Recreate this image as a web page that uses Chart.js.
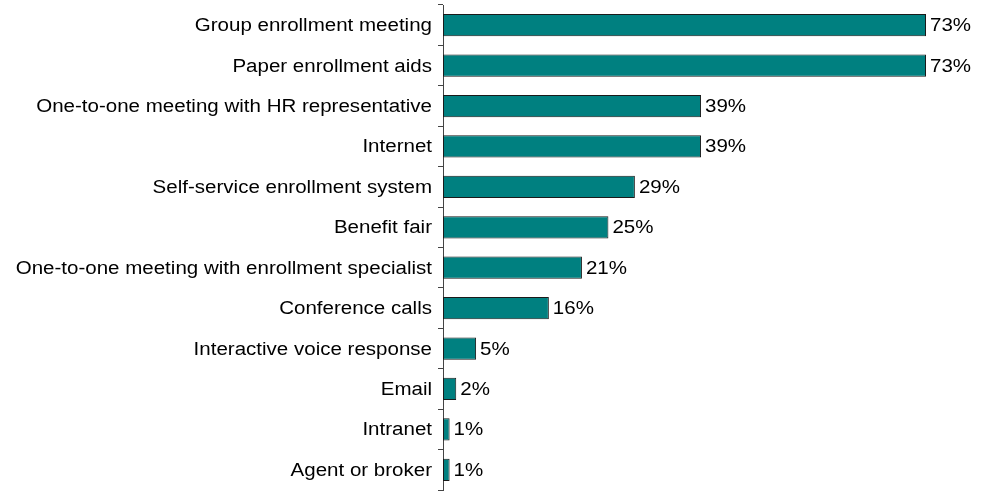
<!DOCTYPE html>
<html>
<head>
<meta charset="utf-8">
<script src="https://cdn.jsdelivr.net/npm/chart.js@4"></script>
<style>
  html, body { margin: 0; padding: 0; background: #fff; }
  #wrap { width: 981px; height: 498px; }
</style>
</head>
<body>
<div id="wrap"><canvas id="chart"></canvas></div>
<script>
const categories = [
    'Group enrollment meeting',
    'Paper enrollment aids',
    'One-to-one meeting with HR representative',
    'Internet',
    'Self-service enrollment system',
    'Benefit fair',
    'One-to-one meeting with enrollment specialist',
    'Conference calls',
    'Interactive voice response',
    'Email',
    'Intranet',
    'Agent or broker'
];
const percents = [73, 73, 39, 39, 29, 25, 21, 16, 5, 2, 1, 1];

const FONT = '18px "Liberation Sans", Arial, sans-serif';
const STRETCH = 1.14; // slightly wide text

// draws text stretched horizontally, anchored at x
function wideText(ctx, text, x, y, align) {
    ctx.save();
    ctx.translate(x, y);
    ctx.scale(STRETCH, 1);
    ctx.textAlign = align;
    ctx.fillText(text, 0, 0);
    ctx.restore();
}

// category names on the left, value labels to the right of each bar
const barLabels = {
    id: 'barLabels',
    afterDatasetsDraw(chart) {
        const ctx = chart.ctx;
        const yScale = chart.scales.y;
        const meta = chart.getDatasetMeta(0);
        ctx.save();
        ctx.font = FONT;
        ctx.fillStyle = '#000';
        ctx.textBaseline = 'middle';
        categories.forEach((name, i) => {
            wideText(ctx, name, yScale.right - 11, yScale.getPixelForTick(i) + 1, 'right');
        });
        meta.data.forEach((bar, i) => {
            wideText(ctx, percents[i] + '%', bar.x + 4, bar.y + 1, 'left');
        });
        ctx.restore();
    }
};

const ctx = document.getElementById('chart').getContext('2d');
const myChart = new Chart(ctx, {
    type: 'bar',
    data: {
        labels: categories,
        datasets: [{
            data: percents,
            backgroundColor: '#008080',
            borderColor: '#1a1a1a',
            borderWidth: 1,
            borderSkipped: false,
            categoryPercentage: 1,
            barPercentage: 0.55
        }]
    },
    options: {
        indexAxis: 'y',
        responsive: true,
        maintainAspectRatio: false,
        animation: false,
        layout: { padding: { top: 5, right: 55, bottom: 8, left: 0 } },
        plugins: {
            legend: { display: false },
            tooltip: { enabled: false }
        },
        scales: {
            x: { display: false, min: 0, max: 73 },
            y: {
                offset: true,
                afterFit(scale) { scale.width = 443; },
                grid: {
                    drawOnChartArea: false,
                    offset: true,
                    tickLength: 5,
                    color: '#444'
                },
                border: { color: '#444', width: 1 },
                ticks: { display: false }
            }
        }
    },
    plugins: [barLabels]
});
</script>
</body>
</html>
